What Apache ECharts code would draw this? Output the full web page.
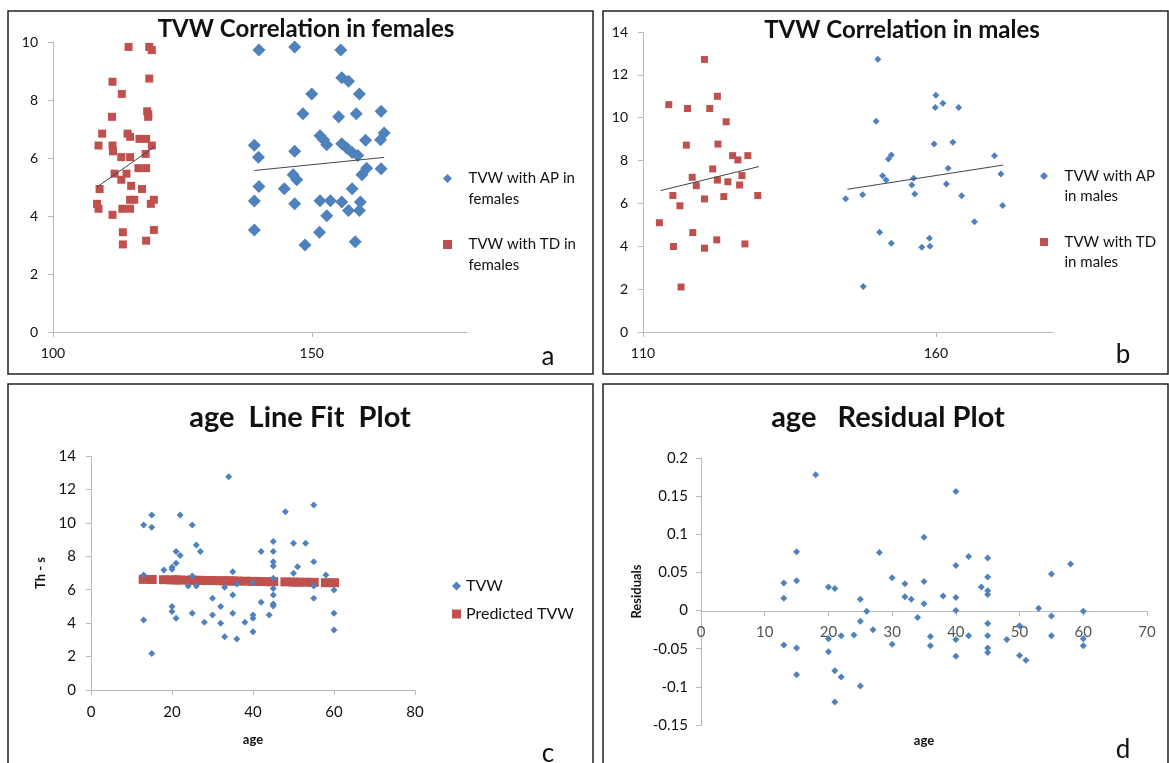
<!DOCTYPE html>
<html>
<head>
<meta charset="utf-8">
<script src="https://cdn.jsdelivr.net/npm/echarts@6/dist/echarts.min.js"></script>
<style>
  html, body { margin: 0; padding: 0; background: #fff; }
  #main { width: 1169px; height: 763px; }
</style>
</head>
<body>
<div id="main"></div>
<script>
// panel a - TVW correlation in females (height, TVW)
var femalesAP = [
  [139.8, 9.72], [146.7, 9.83], [138.9, 6.44], [139.7, 6.03], [146.7, 6.23], [139.8, 5.02],
  [144.7, 4.94], [138.9, 4.52], [146.7, 4.42], [138.9, 3.52], [146.4, 5.42], [147.1, 5.25],
  [148.7, 3.0], [155.6, 9.72], [155.8, 8.77], [157.1, 8.65], [150.0, 8.21], [159.2, 8.21],
  [148.3, 7.53], [155.2, 7.42], [158.6, 7.53], [163.4, 7.61], [151.6, 6.77], [152.3, 6.63],
  [152.9, 6.46], [155.8, 6.49], [156.8, 6.34], [157.8, 6.19], [158.9, 6.09], [160.4, 6.61],
  [163.3, 6.63], [164.0, 6.86], [151.6, 4.53], [153.6, 4.53], [155.8, 4.48], [157.1, 4.19],
  [159.4, 4.48], [159.2, 4.19], [152.9, 4.01], [157.8, 4.94], [159.7, 5.42], [160.6, 5.65],
  [163.4, 5.63], [151.5, 3.44], [158.4, 3.11]
];
var femalesTD = [
  [114.6, 9.83], [118.6, 9.83], [119.1, 9.72], [118.6, 8.74], [111.5, 8.63], [113.3, 8.21],
  [111.4, 7.42], [118.2, 7.61], [118.4, 7.5], [118.4, 7.42], [109.5, 6.84], [114.4, 6.84],
  [114.9, 6.73], [108.8, 6.43], [111.5, 6.43], [111.6, 6.23], [116.7, 6.66], [118.0, 6.66],
  [119.1, 6.43], [113.2, 6.03], [114.9, 6.03], [117.9, 6.14], [111.9, 5.46], [114.2, 5.46],
  [113.2, 5.25], [116.5, 5.65], [118.0, 5.65], [115.1, 5.04], [109.0, 4.93], [117.2, 4.93],
  [108.5, 4.42], [108.8, 4.25], [114.9, 4.56], [115.7, 4.56], [113.4, 4.25], [114.9, 4.25],
  [118.9, 4.42], [119.5, 4.56], [111.5, 4.04], [113.5, 3.44], [119.5, 3.52], [118.0, 3.15],
  [113.5, 3.02]
];
var femalesAPTrend = [[138.9, 5.57], [164.0, 6.02]];
var femalesTDTrend = [[108.5, 5.0], [119.7, 6.4]];

// panel b - TVW correlation in males
var malesAP = [
  [144.6, 6.22], [147.5, 6.41], [147.6, 2.12], [150.1, 12.73], [149.8, 9.83], [150.4, 4.66],
  [152.4, 4.14], [150.9, 7.29], [151.5, 7.09], [151.9, 8.07], [152.4, 8.26], [155.9, 6.86],
  [156.2, 7.17], [156.4, 6.44], [157.6, 3.96], [158.9, 4.37], [159.0, 4.0], [159.7, 8.77],
  [160.0, 11.05], [159.9, 10.48], [161.2, 10.67], [161.8, 6.91], [162.1, 7.64], [162.9, 8.85],
  [163.9, 10.48], [164.4, 6.36], [166.6, 5.15], [170.0, 8.23], [171.1, 7.37], [171.4, 5.9]
];
var malesTD = [
  [112.8, 5.1], [114.4, 10.61], [115.1, 6.37], [115.2, 3.99], [116.3, 5.89], [116.5, 2.1],
  [117.4, 8.72], [117.6, 10.43], [118.4, 7.22], [118.5, 4.64], [119.1, 6.83], [120.5, 12.72],
  [120.5, 6.21], [120.5, 3.91], [121.4, 10.43], [121.9, 7.61], [122.7, 11.0], [122.8, 8.77],
  [122.7, 7.09], [122.6, 4.3], [123.8, 6.32], [124.2, 9.81], [124.5, 7.01], [125.3, 8.23],
  [126.2, 8.03], [126.5, 6.86], [126.9, 7.3], [127.4, 4.11], [127.9, 8.23], [129.6, 6.37]
];
var malesAPTrend = [[144.9, 6.66], [171.5, 7.79]];
var malesTDTrend = [[113.0, 6.6], [129.8, 7.72]];

// panel c - age line fit plot
var ageTVW = [
  [13, 9.87], [13, 6.88], [13, 4.19], [15, 10.47], [15, 9.74], [15, 2.19], [18, 7.18],
  [20, 7.22], [20, 4.99], [20, 4.69], [20, 7.34], [21, 7.58], [21, 8.28], [22, 8.04],
  [21, 4.29], [22, 10.47], [24, 6.22], [25, 9.87], [25, 6.82], [25, 4.59], [26, 8.68],
  [26, 6.22], [27, 8.28], [28, 4.05], [30, 5.49], [30, 4.49], [32, 4.99], [32, 3.99],
  [33, 3.19], [33, 6.15], [34, 12.76], [35, 7.08], [35, 5.68], [35, 4.59], [36, 3.05],
  [36, 6.34], [38, 4.05], [40, 4.49], [40, 4.29], [40, 3.49], [40, 6.4], [42, 8.28],
  [42, 5.25], [44, 4.49], [45, 8.88], [45, 8.28], [45, 7.68], [45, 7.42], [45, 6.68],
  [45, 6.08], [45, 5.68], [45, 5.15], [45, 5.03], [48, 10.67], [50, 6.98], [50, 8.78],
  [51, 7.38], [53, 8.78], [55, 11.07], [55, 7.68], [55, 6.22], [55, 5.49], [58, 6.88],
  [60, 5.98], [60, 4.59], [60, 3.59]
];
var agePredicted = [
  [13, 6.62], [15, 6.61], [18, 6.6], [20, 6.59], [21, 6.59], [22, 6.58], [24, 6.57],
  [25, 6.57], [26, 6.56], [27, 6.56], [28, 6.55], [30, 6.55], [32, 6.54], [33, 6.53],
  [34, 6.53], [35, 6.52], [36, 6.52], [38, 6.51], [40, 6.5], [42, 6.49], [44, 6.48],
  [45, 6.48], [48, 6.47], [50, 6.46], [51, 6.45], [53, 6.45], [55, 6.44], [58, 6.42],
  [60, 6.42]
];

// panel d - age residual plot
var ageResiduals = [
  [18, 0.178], [15, 0.077], [13, 0.036], [13, 0.016], [15, 0.039], [20, 0.031], [21, 0.029],
  [25, 0.015], [26, -0.001], [25, -0.014], [27, -0.025], [20, -0.037], [22, -0.033],
  [24, -0.032], [13, -0.045], [15, -0.049], [20, -0.054], [21, -0.079], [22, -0.087],
  [15, -0.084], [25, -0.099], [21, -0.12], [28, 0.076], [40, 0.156], [35, 0.096],
  [42, 0.071], [45, 0.069], [40, 0.059], [58, 0.061], [55, 0.048], [30, 0.043], [45, 0.044],
  [32, 0.035], [35, 0.038], [44, 0.031], [45, 0.026], [45, 0.021], [32, 0.018], [33, 0.015],
  [38, 0.019], [40, 0.017], [35, 0.009], [40, 0.0], [53, 0.003], [55, -0.007], [60, -0.001],
  [34, -0.009], [45, -0.017], [50, -0.02], [36, -0.034], [42, -0.033], [40, -0.038],
  [45, -0.033], [55, -0.033], [48, -0.038], [60, -0.037], [30, -0.044], [36, -0.046],
  [45, -0.049], [45, -0.055], [60, -0.046], [40, -0.06], [50, -0.059], [51, -0.065]
];

var xTicksA = [100, 150];
var xTicksB = [110, 160];

var BLUE = '#4F81BD';
var RED = '#C0504D';
var FONT = 'Lato, "Open Sans", sans-serif';

var chart = echarts.init(document.getElementById('main'));

function axisBase() {
  return {
    type: 'value',
    splitLine: { show: false },
    axisLine: { show: true, onZero: false, lineStyle: { color: '#B8B8B8', width: 1 } },
    axisTick: { show: true, length: 5, lineStyle: { color: '#B8B8B8' } },
    axisLabel: { color: '#111', fontFamily: FONT, fontSize: 14, margin: 15 }
  };
}

function mergeAxis(extra) {
  var a = axisBase();
  for (var k in extra) {
    if (typeof extra[k] === 'object' && a[k] && !Array.isArray(extra[k])) {
      for (var j in extra[k]) a[k][j] = extra[k][j];
    } else {
      a[k] = extra[k];
    }
  }
  return a;
}

// legend lines: empty first line keeps the icon level with the first text line
var legendText = {
  'TVW with AP in females': ' \n   TVW with AP in\n   females',
  'TVW with TD in females': ' \n   TVW with TD in\n   females',
  'TVW with AP in males': ' \n   TVW with AP\n   in males',
  'TVW with TD in males': ' \n   TVW with TD\n   in males'
};

function trend(data, xi) {
  return {
    type: 'line', data: data, xAxisIndex: xi, yAxisIndex: xi,
    symbol: 'none', silent: true,
    lineStyle: { color: '#444', width: 1 }
  };
}

function dot(name, data, xi, symbol, size, color) {
  return {
    name: name, type: 'scatter', data: data, xAxisIndex: xi, yAxisIndex: xi,
    symbol: symbol, symbolSize: size, itemStyle: { color: color, opacity: 1 }
  };
}

var nameStyle = { fontFamily: FONT, fontWeight: 'bold', fontSize: 13, color: '#111' };

chart.setOption({
  animation: false,
  backgroundColor: '#fff',
  grid: [
    { left: 53, top: 42, width: 414, height: 290, outerBoundsMode: 'none' },
    { left: 643, top: 32, width: 410, height: 300, outerBoundsMode: 'none' },
    { left: 91, top: 456, width: 324, height: 234, outerBoundsMode: 'none' },
    { left: 701, top: 458, width: 446, height: 267, outerBoundsMode: 'none' }
  ],
  xAxis: [
    mergeAxis({ gridIndex: 0, min: 100, max: 180,
      axisTick: { customValues: xTicksA }, axisLabel: { customValues: xTicksA, margin: 14 } }),
    mergeAxis({ gridIndex: 1, min: 110, max: 180,
      axisTick: { customValues: xTicksB }, axisLabel: { customValues: xTicksB, margin: 14 } }),
    mergeAxis({ gridIndex: 2, min: 0, max: 80, interval: 20,
      axisLabel: { fontSize: 15, margin: 15 },
      name: 'age', nameLocation: 'middle', nameGap: 43, nameTextStyle: nameStyle }),
    mergeAxis({ gridIndex: 3, min: 0, max: 70, interval: 10, offset: -114,
      axisLabel: { fontSize: 15, margin: 14, color: '#555' },
      name: 'age', nameLocation: 'middle', nameGap: 123, nameTextStyle: nameStyle })
  ],
  yAxis: [
    mergeAxis({ gridIndex: 0, min: 0, max: 10, interval: 2 }),
    mergeAxis({ gridIndex: 1, min: 0, max: 14, interval: 2 }),
    mergeAxis({ gridIndex: 2, min: 0, max: 14, interval: 2,
      axisLabel: { fontSize: 15, margin: 15 },
      name: 'Th - s', nameLocation: 'middle', nameGap: 44, nameRotate: 90, nameTextStyle: nameStyle }),
    mergeAxis({ gridIndex: 3, min: -0.15, max: 0.2, interval: 0.05,
      axisLabel: { fontSize: 15, margin: 13 },
      name: 'Residuals', nameLocation: 'middle', nameGap: 58, nameRotate: 90, nameTextStyle: nameStyle })
  ],
  legend: [
    { data: [{ name: 'TVW with AP in females', icon: 'diamond' }, { name: 'TVW with TD in females', icon: 'rect' }],
      orient: 'vertical', left: 443, top: 147, padding: 0, itemGap: 3, itemWidth: 9, itemHeight: 9,
      formatter: function (n) { return legendText[n]; },
      textStyle: { fontFamily: FONT, fontSize: 15, color: '#111', lineHeight: 21 } },
    { data: [{ name: 'TVW with AP in males', icon: 'diamond' }, { name: 'TVW with TD in males', icon: 'rect' }],
      orient: 'vertical', left: 1040, top: 146, padding: 0, itemGap: 6, itemWidth: 8, itemHeight: 8,
      formatter: function (n) { return legendText[n]; },
      textStyle: { fontFamily: FONT, fontSize: 15, color: '#111', lineHeight: 20 } },
    { data: [{ name: 'TVW', icon: 'diamond' }, { name: 'Predicted TVW', icon: 'rect' }],
      orient: 'vertical', left: 452, top: 578, padding: 0, itemGap: 12, itemWidth: 9, itemHeight: 9,
      textStyle: { fontFamily: FONT, fontSize: 16, color: '#111' } }
  ],
  series: [
    dot('TVW with AP in females', femalesAP, 0, 'diamond', 13, BLUE),
    dot('TVW with TD in females', femalesTD, 0, 'rect', 8, RED),
    trend(femalesAPTrend, 0),
    trend(femalesTDTrend, 0),
    dot('TVW with AP in males', malesAP, 1, 'diamond', 7, BLUE),
    dot('TVW with TD in males', malesTD, 1, 'rect', 7, RED),
    trend(malesAPTrend, 1),
    trend(malesTDTrend, 1),
    dot('Predicted TVW', agePredicted, 2, 'rect', [10, 9], RED),
    dot('TVW', ageTVW, 2, 'diamond', 7, BLUE),
    dot('Residuals', ageResiduals, 3, 'diamond', 7, BLUE)
  ],
  graphic: [
    { type: 'rect', shape: { x: 8, y: 11, width: 585, height: 363 }, style: { fill: 'none', stroke: '#222', lineWidth: 1.5 }, silent: true },
    { type: 'rect', shape: { x: 603, y: 11, width: 565, height: 363 }, style: { fill: 'none', stroke: '#222', lineWidth: 1.5 }, silent: true },
    { type: 'rect', shape: { x: 8, y: 384, width: 585, height: 390 }, style: { fill: 'none', stroke: '#222', lineWidth: 1.5 }, silent: true },
    { type: 'rect', shape: { x: 603, y: 384, width: 565, height: 390 }, style: { fill: 'none', stroke: '#222', lineWidth: 1.5 }, silent: true },
    { type: 'text', x: 306, y: 29, style: { text: 'TVW Correlation in females', font: 'bold 24px ' + FONT, fill: '#111', align: 'center', verticalAlign: 'middle' } },
    { type: 'text', x: 902, y: 30, style: { text: 'TVW Correlation in males', font: 'bold 24px ' + FONT, fill: '#111', align: 'center', verticalAlign: 'middle' } },
    { type: 'text', x: 300, y: 418, style: { text: 'age  Line Fit  Plot', font: 'bold 29px ' + FONT, fill: '#111', align: 'center', verticalAlign: 'middle' } },
    { type: 'text', x: 888, y: 418, style: { text: 'age   Residual Plot', font: 'bold 29px ' + FONT, fill: '#111', align: 'center', verticalAlign: 'middle' } },
    { type: 'text', x: 548, y: 357, style: { text: 'a', font: '26px ' + FONT, fill: '#111', align: 'center', verticalAlign: 'middle' } },
    { type: 'text', x: 1123, y: 355, style: { text: 'b', font: '26px ' + FONT, fill: '#111', align: 'center', verticalAlign: 'middle' } },
    { type: 'text', x: 548, y: 754, style: { text: 'c', font: '26px ' + FONT, fill: '#111', align: 'center', verticalAlign: 'middle' } },
    { type: 'text', x: 1123, y: 750, style: { text: 'd', font: '26px ' + FONT, fill: '#111', align: 'center', verticalAlign: 'middle' } }
  ]
});
</script>
</body>
</html>
